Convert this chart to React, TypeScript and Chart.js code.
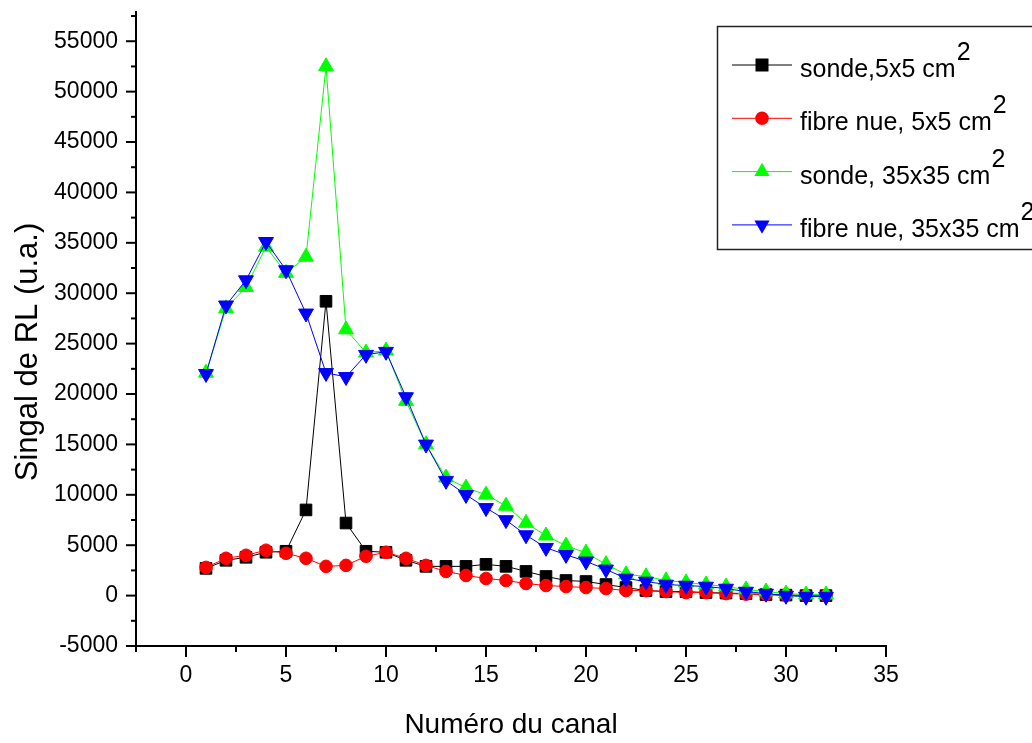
import React, { useEffect, useRef } from 'react';
import { Chart, registerables } from 'chart.js';

Chart.register(...registerables);

// ---------- data ----------
const channels = [1, 2, 3, 4, 5, 6, 7, 8, 9, 10, 11, 12, 13, 14, 15, 16, 17, 18, 19, 20, 21, 22, 23, 24, 25, 26, 27, 28, 29, 30, 31, 32];

const sonde5x5 = [2700, 3500, 3800, 4300, 4400, 8500, 29200, 7200, 4400, 4300, 3500, 2900, 2900, 2900, 3100, 2900, 2400, 1900, 1500, 1400, 1100, 800, 500, 400, 400, 300, 250, 200, 100, 50, 0, 0];
const fibre5x5 = [2800, 3700, 4000, 4500, 4200, 3700, 2900, 3000, 3900, 4300, 3700, 3000, 2400, 2000, 1700, 1500, 1200, 1000, 900, 800, 700, 500, 500, 400, 300, 300, 200, 150, 100, 50, 0, 0];
const sonde35x35 = [22100, 28500, 30600, 34600, 32000, 33600, 52500, 26400, 24100, 24300, 19300, 15000, 11700, 10700, 10000, 8900, 7200, 5950, 4950, 4250, 3100, 2100, 1900, 1500, 1300, 1100, 900, 600, 400, 200, 100, 100];
const fibre35x35 = [22000, 28800, 31300, 35100, 32300, 28000, 22100, 21700, 23900, 24200, 19700, 15000, 11400, 10000, 8700, 7500, 6000, 4750, 4050, 3400, 2600, 1700, 1400, 1100, 1000, 900, 700, 400, 200, 0, -100, -100];

const seriesLabels = ['sonde,5x5 cm', 'fibre nue, 5x5 cm', 'sonde, 35x35 cm', 'fibre nue, 35x35 cm'];
const seriesSuperscript = '2';

const xTitle = 'Numéro du canal';
const yTitle = 'Singal de RL (u.a.)';

const xMajorTicks = [0, 5, 10, 15, 20, 25, 30, 35];
const yMajorTicks = [-5000, 0, 5000, 10000, 15000, 20000, 25000, 30000, 35000, 40000, 45000, 50000, 55000];

const xMin = -2.5;
const xMax = 35;
const xMinorStep = 2.5;
const yMin = -5000;
const yMax = 57900;
const yMinorStep = 2500;

// ---------- styles ----------
const FONT = '"Liberation Sans", Arial, Helvetica, sans-serif';
const COLORS = ['#000000', '#ff0000', '#00ff00', '#0000ff'];
const SHAPES = ['rect', 'circle', 'triUp', 'triDown'];

const toPoints = (vals: number[]) => channels.map((c, i) => ({ x: c, y: vals[i] }));

function drawMarker(ctx: CanvasRenderingContext2D, shape: string, cx: number, cy: number, color: string) {
  ctx.fillStyle = color;
  ctx.beginPath();
  if (shape === 'rect') {
    ctx.rect(cx - 6.5, cy - 6.5, 13, 13);
  } else if (shape === 'circle') {
    ctx.arc(cx, cy, 6.8, 0, Math.PI * 2);
  } else {
    const r = 8.8;
    const s = r * Math.sin(Math.PI / 3);
    const d = shape === 'triUp' ? 1 : -1;
    ctx.moveTo(cx, cy - d * r);
    ctx.lineTo(cx + s, cy + d * r / 2);
    ctx.lineTo(cx - s, cy + d * r / 2);
    ctx.closePath();
  }
  ctx.fill();
}

const isMajor = (v: number, majors: number[]) => majors.some((m) => Math.abs(m - v) < 1e-6);

const ticksPlugin = {
  id: 'originTicks',
  afterDraw(chart: any) {
    const { ctx, chartArea } = chart;
    const xs = chart.scales.x;
    const ys = chart.scales.y;
    ctx.save();
    ctx.strokeStyle = '#000';
    ctx.lineWidth = 2;
    for (let v = yMin; v <= yMax + 1e-6; v += yMinorStep) {
      const major = isMajor(v, yMajorTicks);
      const py = ys.getPixelForValue(v);
      ctx.beginPath();
      ctx.moveTo(chartArea.left - (major ? 10 : 5), py);
      ctx.lineTo(chartArea.left, py);
      ctx.stroke();
    }
    for (let v = xMin; v <= xMax + 1e-6; v += xMinorStep) {
      const major = isMajor(v, xMajorTicks);
      const px = xs.getPixelForValue(v);
      ctx.beginPath();
      ctx.moveTo(px, chartArea.bottom);
      ctx.lineTo(px, chartArea.bottom + (major ? 11 : 6));
      ctx.stroke();
    }
    // y axis title (Origin places it slightly below the axis centre)
    ctx.fillStyle = '#000';
    ctx.font = `31px ${FONT}`;
    ctx.textAlign = 'center';
    ctx.textBaseline = 'middle';
    ctx.translate(28, 352);
    ctx.rotate(-Math.PI / 2);
    ctx.fillText(yTitle, 0, 0);
    ctx.restore();
  },
};

const legendPlugin = {
  id: 'originLegend',
  afterDraw(chart: any) {
    const { ctx } = chart;
    ctx.save();
    ctx.strokeStyle = '#222';
    ctx.lineWidth = 1.5;
    ctx.strokeRect(717.5, 26.5, 330, 223);
    const font = `25px ${FONT}`;
    seriesLabels.forEach((label, i) => {
      const cy = 65 + i * 53.3;
      ctx.strokeStyle = COLORS[i];
      ctx.lineWidth = 1;
      ctx.beginPath();
      ctx.moveTo(732, cy);
      ctx.lineTo(792, cy);
      ctx.stroke();
      drawMarker(ctx, SHAPES[i], 762, cy, COLORS[i]);
      ctx.fillStyle = '#000';
      ctx.font = font;
      ctx.textAlign = 'left';
      ctx.textBaseline = 'alphabetic';
      ctx.fillText(label, 800, cy + 12);
      const w = ctx.measureText(label).width;
      ctx.fillText(seriesSuperscript, 800 + w + 1, cy - 5);
    });
    ctx.restore();
  },
};

export default function App() {
  const canvasRef = useRef<HTMLCanvasElement | null>(null);

  useEffect(() => {
    if (!canvasRef.current) return;
    const datasets = [sonde5x5, fibre5x5, sonde35x35, fibre35x35].map((vals, i) => {
      const shape = SHAPES[i];
      return {
        label: seriesLabels[i],
        data: toPoints(vals),
        borderColor: COLORS[i],
        backgroundColor: COLORS[i],
        borderWidth: 1,
        pointBackgroundColor: COLORS[i],
        pointBorderColor: COLORS[i],
        pointBorderWidth: 1,
        pointStyle: shape === 'rect' ? 'rect' : shape === 'circle' ? 'circle' : 'triangle',
        pointRadius: shape === 'rect' ? 8.2 : shape === 'circle' ? 6.3 : 8.6,
        pointRotation: shape === 'triDown' ? 180 : 0,
        tension: 0,
        fill: false,
        order: 4 - i,
      };
    });

    const chart = new Chart(canvasRef.current, {
      type: 'line',
      data: { datasets: datasets as any },
      options: {
        responsive: false,
        animation: false,
        layout: { padding: { top: 12, right: 146, left: 0, bottom: 0 } },
        plugins: { legend: { display: false }, tooltip: { enabled: false } },
        scales: {
          x: {
            type: 'linear',
            min: xMin,
            max: xMax,
            afterBuildTicks: (s: any) => {
              s.ticks = xMajorTicks.map((v) => ({ value: v }));
            },
            ticks: {
              autoSkip: false,
              maxRotation: 0,
              color: '#000',
              font: { family: FONT, size: 23 },
              padding: 16,
              callback: (v: any) => String(v),
            },
            grid: { display: false, drawTicks: false },
            border: { display: true, color: '#000', width: 2 },
            title: {
              display: true,
              text: xTitle,
              color: '#000',
              font: { family: FONT, size: 28 },
              padding: { top: 0, bottom: 1 },
            },
            afterFit: (s: any) => {
              s.height = 97;
              s.paddingLeft = 0;
              s.paddingRight = 0;
            },
          },
          y: {
            type: 'linear',
            min: yMin,
            max: yMax,
            afterBuildTicks: (s: any) => {
              s.ticks = yMajorTicks.map((v) => ({ value: v }));
            },
            ticks: {
              autoSkip: false,
              color: '#000',
              font: { family: FONT, size: 23 },
              padding: 18,
              callback: (v: any) => String(v),
            },
            grid: { display: false, drawTicks: false },
            border: { display: true, color: '#000', width: 2 },
            title: { display: false },
            afterFit: (s: any) => {
              s.width = 136;
              s.paddingTop = 0;
              s.paddingBottom = 0;
            },
          },
        },
      },
      plugins: [ticksPlugin, legendPlugin],
    });
    return () => chart.destroy();
  }, []);

  return (
    <div style={{ position: 'absolute', left: 0, top: 0, width: 1032, height: 743, background: '#fff' }}>
      <canvas ref={canvasRef} width={1032} height={743} style={{ display: 'block', width: 1032, height: 743 }} />
    </div>
  );
}
